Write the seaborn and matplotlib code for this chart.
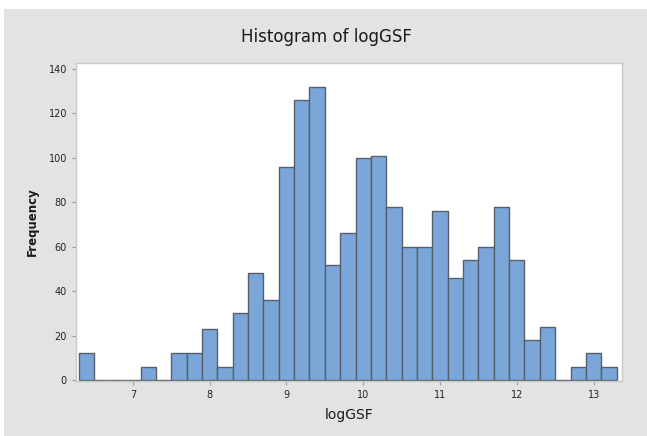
import matplotlib
matplotlib.use("Agg")
import matplotlib.pyplot as plt
from matplotlib.patches import Rectangle
import numpy as np
import pandas as pd
import seaborn as sns

# Data (bin centers, width 0.2)
bin_centers = [6.4, 6.6, 6.8, 7.0, 7.2, 7.4, 7.6, 7.8, 8.0, 8.2, 8.4, 8.6, 8.8,
               9.0, 9.2, 9.4, 9.6, 9.8, 10.0, 10.2, 10.4, 10.6, 10.8, 11.0,
               11.2, 11.4, 11.6, 11.8, 12.0, 12.2, 12.4, 12.6, 12.8, 13.0, 13.2]
counts = [12, 0, 0, 0, 6, 0, 12, 12, 23, 6, 30, 48, 36,
          96, 126, 132, 52, 66, 100, 101, 78, 60, 60, 76,
          46, 54, 60, 78, 54, 18, 24, 0, 6, 12, 6]
x_ticks = [7, 8, 9, 10, 11, 12, 13]
y_ticks = [0, 20, 40, 60, 80, 100, 120, 140]
title = "Histogram of logGSF"
x_label = "logGSF"
y_label = "Frequency"

df = pd.DataFrame({"logGSF": bin_centers, "count": counts})
bin_width = 0.2
edges = [round(v, 6) for v in np.arange(bin_centers[0] - bin_width / 2,
                                         bin_centers[-1] + bin_width, bin_width)]

W, H = 647, 436
fig = plt.figure(figsize=(W / 100, H / 100), dpi=100, facecolor="white")
# gray panel background
fig.patches.append(Rectangle((4 / W, 0), 1 - 4 / W, 1 - 9 / H,
                             transform=fig.transFigure, facecolor="#e3e3e3",
                             edgecolor="none", zorder=-10))

ax = fig.add_axes([76 / W, 1 - 381 / H, (622 - 76) / W, (381 - 63) / H])
ax.set_facecolor("white")

sns.histplot(data=df, x="logGSF", weights="count", bins=edges, ax=ax,
             color="#7ba6d9", alpha=1.0, edgecolor="#55606c", linewidth=1.0)

ax.set_xlim(6.26, 13.37)
ax.set_ylim(-0.4, 142.7)
ax.set_xticks(x_ticks)
ax.set_yticks(y_ticks)
ax.tick_params(axis="both", labelsize=7, colors="#9a9a9a", labelcolor="#222222",
               length=3, width=0.8)
ax.set_xlabel(x_label, fontsize=10, color="#1a1a1a", labelpad=6)
ax.set_ylabel(y_label, fontsize=8.5, fontweight="bold", color="#1a1a1a", labelpad=7)
for s in ax.spines.values():
    s.set_color("#c8c8c8")
    s.set_linewidth(1.0)

fig.text(326 / W, 1 - 37 / H, title, ha="center", va="center",
         fontsize=12, color="#1a1a1a")

fig.savefig("out.png", dpi=100, facecolor=fig.get_facecolor())
